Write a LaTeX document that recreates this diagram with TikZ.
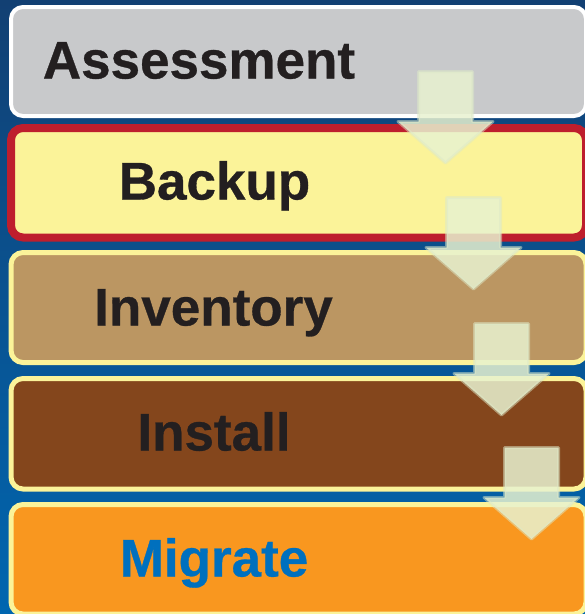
\documentclass[tikz,border=0pt]{standalone}
\usepackage{fontspec}
\setmainfont[BoldFeatures={FakeBold=0.6}]{Liberation Sans}
\definecolor{inkc}{HTML}{231F20}
\definecolor{migc}{HTML}{0070BE}
\definecolor{arrowf}{HTML}{E8F2D0}
\definecolor{arrowd}{HTML}{DDE9C8}
\tikzset{
  x=1pt,y=-1pt,
  stagebox/.style={rectangle,rounded corners=12pt,inner sep=0pt,outer sep=0pt,minimum width=575pt,anchor=center},
  stagelabel/.style={anchor=base,inner sep=0pt,text=inkc,font=\fontsize{53}{56}\selectfont\bfseries},
  flowarrow/.style={fill=arrowf,fill opacity=.85,draw=arrowd,draw opacity=.5,line width=3pt,line join=round}
}
\newcommand{\flowdown}[2]{%
  \draw[flowarrow] (#1-27,#2+1.5) -- (#1+27,#2+1.5) -- (#1+27,#2+51.5) -- (#1+47.5,#2+51.5)
    -- (#1,#2+93) -- (#1-47.5,#2+51.5) -- (#1-27,#2+51.5) -- cycle;}
\begin{document}
\begin{tikzpicture}
\useasboundingbox (0,0) rectangle (585,614);
\clip (0,0) rectangle (585,614);
\shade[top color={rgb,255:red,18;green,64;blue,115},bottom color={rgb,255:red,0;green,102;blue,176}] (0,0) rectangle (585,614);
\node[stagebox,draw=white,line width=4pt,fill={rgb,255:red,200;green,201;blue,203},minimum height=109pt] (assess) at (298.5,61.5) {};
\node[stagebox,draw={rgb,255:red,190;green,30;blue,45},line width=8pt,fill={rgb,255:red,251;green,243;blue,153},minimum height=109.5pt] (backup) at (298.5,182.75) {};
\node[stagebox,draw={rgb,255:red,251;green,243;blue,153},line width=5pt,fill={rgb,255:red,187;green,150;blue,98},minimum height=110pt] (inventory) at (298.5,307.5) {};
\node[stagebox,draw={rgb,255:red,251;green,243;blue,153},line width=5pt,fill={rgb,255:red,132;green,70;blue,28},minimum height=110.5pt] (install) at (298.5,433.75) {};
\node[stagebox,draw={rgb,255:red,251;green,243;blue,153},line width=5pt,fill={rgb,255:red,249;green,151;blue,31},minimum height=109.5pt] (migrate) at (298.5,559.25) {};
\node[stagelabel] (assesslabel) at (199,78.5) {Assessment};
\node[stagelabel] (backuplabel) at (214.5,199.5) {Backup};
\node[stagelabel] (inventorylabel) at (213.5,325.5) {Inventory};
\node[stagelabel] (installlabel) at (214,450.5) {Install};
\node[stagelabel,text=migc] (migratelabel) at (214,576.5) {Migrate};
\flowdown{445.5}{70}
\flowdown{473.5}{196}
\flowdown{501.5}{322}
\flowdown{531.5}{446}
\end{tikzpicture}
\end{document}
